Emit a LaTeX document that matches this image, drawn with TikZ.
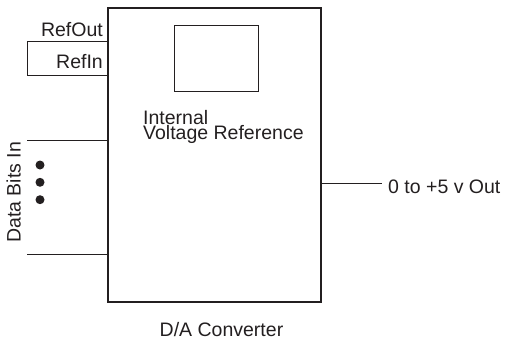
\documentclass[tikz,border=0pt]{standalone}
\usepackage{fontspec}
\setmainfont{Liberation Sans}
\begin{document}
\begin{tikzpicture}[x=1pt,y=-1pt,
  lbl/.style={inner sep=0pt,font=\fontsize{19.5}{14}\selectfont,text=ink},
  mainbox/.style={draw=ink,line width=2pt,minimum width=213pt,minimum height=294pt,inner sep=0pt},
  refbox/.style={draw=ink,line width=1pt,minimum width=84pt,minimum height=66pt,inner sep=0pt},
  wire/.style={draw=ink,line width=1pt},
  dot/.style={circle,fill=ink,minimum size=9pt,inner sep=0pt}]
\definecolor{ink}{HTML}{231F20}
\useasboundingbox (0,0) rectangle (509,343);
\node[mainbox] (dac) at (214.8,155.3) {};
\node[refbox] (ref) at (216,58) {};
% reference loop
\coordinate (ro) at (27.7,41.7);
\coordinate (ri) at (27.7,75);
\draw[wire] (ro -| dac.west) -- (ro) -- (ri) -- (ri -| dac.west);
\node[lbl,anchor=base east] (refout) at (103,36.7) {RefOut};
\node[lbl,anchor=base east] (refin) at (103,68) {RefIn};
% internal reference label
\node[lbl,anchor=south west,align=left,font=\fontsize{19.5}{15.6}\selectfont] (ivr) at (143,143.9) {Internal\\Voltage Reference};
% data bits
\coordinate (d1) at (27,140.7);
\coordinate (d2) at (27,254.3);
\draw[wire] (d1) -- (d1 -| dac.west);
\draw[wire] (d2) -- (d2 -| dac.west);
\node[dot] (dot1) at (40,165) {};
\node[dot] (dot2) at (40,182.3) {};
\node[dot] (dot3) at (40,199.7) {};
\node[lbl,anchor=base,rotate=90] (dbi) at (20.7,192.5) {Data Bits In};
% output
\node[lbl,anchor=base west] (out) at (388,193) {0 to +5 v Out};
\coordinate (oend) at (382,183.3);
\draw[wire] (oend -| dac.east) -- (oend);
% title
\node[lbl,anchor=base] (title) at (221.5,336.7) {D/A Converter};
\end{tikzpicture}
\end{document}
